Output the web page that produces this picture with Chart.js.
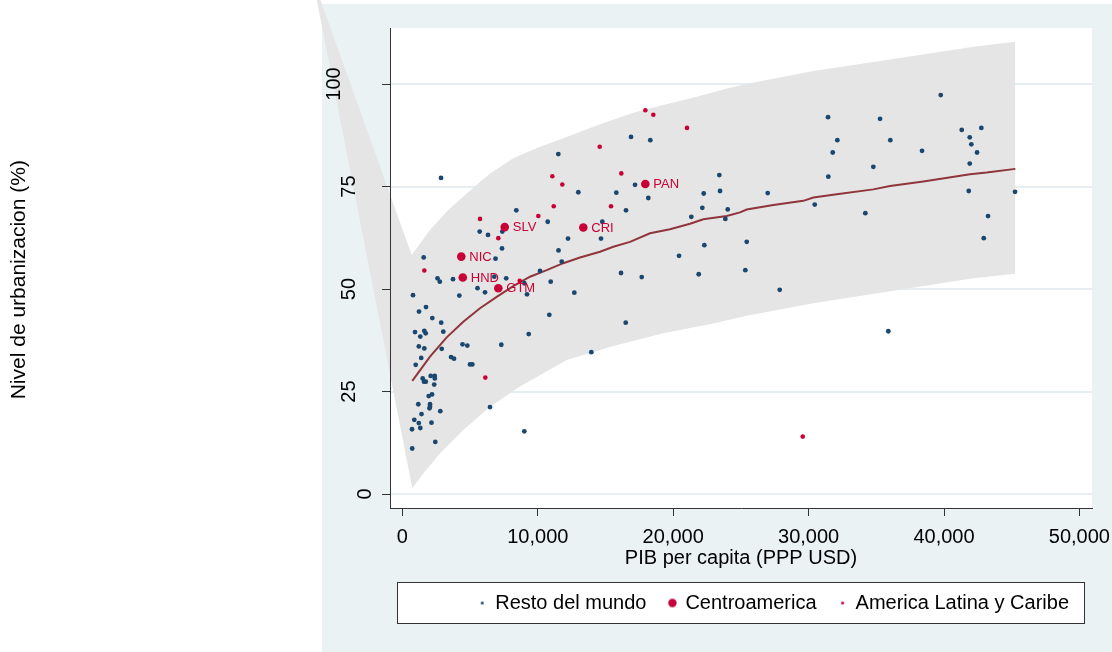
<!DOCTYPE html>
<html><head><meta charset="utf-8">
<script src="https://cdn.jsdelivr.net/npm/chart.js@4/dist/chart.umd.min.js"></script>
<style>html,body{margin:0;padding:0;background:#fff;overflow:hidden}#wrap{width:1112px;height:652px}</style>
</head><body><div id="wrap"><canvas id="c" width="1112" height="652"></canvas></div>
<script>
// ---------------- data ----------------
const seriesNames = ['Resto del mundo', 'Centroamerica', 'America Latina y Caribe'];
const fitName = 'Ajuste';
const xTitle = 'PIB per capita (PPP USD)';
const yTitle = 'Nivel de urbanizacion (%)';
const xTicks = [0, 10000, 20000, 30000, 40000, 50000];
const yTicks = [0, 25, 50, 75, 100];
const yTickLabels = ['0', '25', '50', '75', '100'];

const restoX = [2851,11515,16884,18310,12992,15799,17180,18162,8413,10732,12231,14668,14765,16515,11530,5709,6322,7379,7356,1573,6876,20430,21338,22150,22254,23406,23458,24027,23850,22298,25430,
  2592,2762,3737,7667,6788,9004,9203,5547,6101,4203,783,10163,11766,10953,12697,16146,17675,21885,25327,10850,16493,9329,7305,13952,6470,9004,4439,4793,3590,3811,4993,5163,
  1226,1743,2208,2866,3021,931,1618,1721,1322,1211,1618,2903,1389,982,1499,1595,1728,2090,2386,2393,2349,1943,2186,1174,2039,2039,2002,2799,1411,879,1211,2149,1322,709,2430,724,
  39759,31435,35276,41310,42757,41901,42019,42440,32122,36036,31782,38378,34781,31457,41901,26981,41827,45247,30453,34190,43252,42935,27867,35888];
const restoY = [77.1,82.9,87.1,86.3,73.6,73.5,75.4,72.2,69.2,66.4,62.3,62.3,66.4,69.2,59.4,64.0,63.2,64.0,59.9,57.7,57.4,58.1,67.6,69.8,73.3,77.8,73.9,69.4,67.1,60.7,61.5,
  52.6,51.8,52.4,52.6,53.0,51.4,48.7,50.2,49.2,48.4,48.5,54.4,56.7,51.8,49.1,53.9,52.9,53.6,54.6,43.7,41.8,39.0,36.4,34.6,21.2,15.3,36.5,36.2,33.4,33.0,31.6,31.6,
  44.5,45.6,42.9,41.8,39.6,39.5,39.8,39.2,38.4,36.0,35.5,35.4,33.2,31.5,28.2,27.4,27.4,28.8,28.8,28.2,26.7,23.9,24.3,21.9,21.9,21.3,20.9,20.2,19.5,18.1,17.3,17.4,16.1,15.8,12.7,11.1,
  97.3,91.9,91.5,88.8,89.3,87.0,85.3,83.3,86.3,86.3,83.3,83.7,79.8,77.4,80.6,73.4,73.9,73.7,70.6,68.5,67.8,62.4,49.8,39.7];

const caCodes = ['PAN', 'SLV', 'CRI', 'NIC', 'HND', 'GTM'];
const caX = [17940, 7556, 13361, 4350, 4461, 7083];
const caY = [75.6, 65.1, 65.0, 57.9, 52.8, 50.2];

const alcX = [17941,18532,21021,14573,11072,11810,16168,11175,15407,10038,5732,7083,1618,8664,6123,29566];
const alcY = [93.6,92.5,89.3,84.7,77.5,75.5,78.2,70.2,70.2,67.8,67.1,62.4,54.5,52.0,28.4,14.0];

const fitX = [731,2039,3272,4498,5731,6965,8191,9425,10658,11884,13118,14595,15577,16811,18288,19765,21242,22225,23953,24935,25430,27395,29611,30349,32077,34781,36014,38473,41923,43156,45269];
const fitY = [27.6,33.5,38.2,42.0,45.3,48.1,50.7,53.0,54.6,56.3,57.7,59.1,60.3,61.5,63.6,64.6,65.9,67.0,67.8,68.7,69.4,70.5,71.5,72.3,73.1,74.3,75.1,76.2,78.0,78.4,79.3];

const ciUpX = [-6650,687,2039,3272,4749,6470,8191,10163,11884,14595,17054,19270,21737,23953,25674,30349,36014,42167,45269];
const ciUpY = [126,58.3,64.4,68.9,73.3,78.2,81.9,84.7,86.8,90.2,93.0,94.9,96.9,98.9,100.2,103.2,106.0,109.1,110.3];
const ciLoX = [-6650,731,1544,2777,4498,6470,8686,12135,15577,19270,22963,25430,30349,36258,42167,45269];
const ciLoY = [126,1.4,5.0,9.9,15.6,21.3,26.2,32.7,36.1,39.2,41.6,43.5,46.5,49.6,52.6,53.7];

// ---------------- styles ----------------
const FONT = "'Liberation Sans', Arial, Helvetica, sans-serif";
const NAVY = '#1a476f', RED = '#c90036', MAROON = '#90353b', BAND = '#e5e5e5', PANEL = '#eaf2f3', GRID = '#e6eef1', AXIS = '#333333';
Chart.defaults.font.family = FONT;
Chart.defaults.color = '#000';

const pts = (xs, ys) => xs.map((x, i) => ({x, y: ys[i]}));
function dot(r, color) {
  const c = document.createElement('canvas');
  const s = Math.ceil(2 * r + 2);
  c.width = s; c.height = s;
  const g = c.getContext('2d');
  g.fillStyle = color; g.beginPath(); g.arc(s / 2, s / 2, r, 0, Math.PI * 2); g.fill();
  return c;
}
const legendDots = [dot(1.5, NAVY), dot(4.2, RED), dot(1.5, RED)];
const BAND_INDEX = 4;

const bgPlugin = {
  id: 'bg',
  beforeDraw(chart) {
    const ctx = chart.ctx, a = chart.chartArea;
    ctx.save();
    ctx.fillStyle = '#fff'; ctx.fillRect(0, 0, chart.width, chart.height);
    ctx.fillStyle = PANEL; ctx.fillRect(322, 4, chart.width - 322, chart.height - 4);
    ctx.fillStyle = '#fff'; ctx.fillRect(a.left, a.top, a.right - a.left, a.bottom - a.top);
    ctx.fillRect(397.5, 582.5, 687, 41);
    ctx.strokeStyle = AXIS; ctx.lineWidth = 1; ctx.strokeRect(397.5, 582.5, 687, 41);
    ctx.restore();
  }
};
// let the confidence band spill outside the plot region, as in the original
const unclipBand = {
  id: 'unclipBand',
  beforeDatasetsDraw(chart) {
    chart.$savedArea = chart.chartArea;
    chart.chartArea = {left: 0, top: 0, right: chart.width, bottom: chart.height, width: chart.width, height: chart.height};
  },
  afterDatasetDraw(chart, args) {
    if (args.index === BAND_INDEX && chart.$savedArea) { chart.chartArea = chart.$savedArea; chart.$savedArea = null; }
  },
  afterDatasetsDraw(chart) {
    if (chart.$savedArea) { chart.chartArea = chart.$savedArea; chart.$savedArea = null; }
  }
};
const codePlugin = {
  id: 'codes',
  afterDatasetsDraw(chart) {
    const meta = chart.getDatasetMeta(1), ctx = chart.ctx;
    ctx.save();
    ctx.font = '13px ' + FONT; ctx.fillStyle = RED; ctx.textBaseline = 'middle'; ctx.textAlign = 'left';
    meta.data.forEach((p, i) => ctx.fillText(caCodes[i], p.x + 8, p.y + 0.5));
    ctx.restore();
  }
};

new Chart(document.getElementById('c'), {
  type: 'scatter',
  data: {
    datasets: [
      {label: seriesNames[0], data: pts(restoX, restoY), backgroundColor: NAVY, pointRadius: 2.4, pointBorderWidth: 0, order: 6},
      {label: seriesNames[1], data: pts(caX, caY), backgroundColor: RED, pointRadius: 4.3, pointBorderWidth: 0, order: 4},
      {label: seriesNames[2], data: pts(alcX, alcY), backgroundColor: RED, pointRadius: 2.3, pointBorderWidth: 0, order: 5},
      {label: fitName, type: 'line', data: pts(fitX, fitY), borderColor: MAROON, borderWidth: 2, pointRadius: 0, fill: false, tension: 0, order: 8},
      {label: 'IC sup', type: 'line', data: pts(ciUpX, ciUpY), borderWidth: 0, borderColor: BAND, backgroundColor: BAND, pointRadius: 0, fill: '+1', tension: 0, clip: false, order: 10},
      {label: 'IC inf', type: 'line', data: pts(ciLoX, ciLoY), borderWidth: 0, borderColor: BAND, backgroundColor: BAND, pointRadius: 0, fill: false, tension: 0, clip: false, order: 11}
    ]
  },
  options: {
    responsive: false, animation: false, devicePixelRatio: 1,
    events: [],
    layout: {padding: {top: 28, right: 20, bottom: 29, left: 0}},
    scales: {
      x: {
        type: 'linear', position: 'bottom', min: -916, max: 50930,
        afterBuildTicks: s => { s.ticks = xTicks.map(v => ({value: v})); },
        afterFit: s => { s.height = 62; s.paddingLeft = 0; s.paddingRight = 0; },
        ticks: {font: {size: 20}, color: '#000', padding: 9, callback: v => Number(v).toLocaleString('en-US')},
        grid: {drawOnChartArea: false, drawTicks: true, tickLength: 8, tickColor: AXIS, tickWidth: 1},
        border: {display: true, color: AXIS, width: 1, z: 1},
        title: {display: true, text: xTitle, font: {size: 20, lineHeight: 1}, color: '#000', padding: {top: 0, bottom: 2}}
      },
      y: {
        type: 'linear', position: 'left', min: -3.41, max: 113.66, weight: 1,
        afterBuildTicks: s => { s.ticks = yTicks.map(v => ({value: v})); },
        afterFit: s => { s.width = 390; s.paddingTop = 0; s.paddingBottom = 0; },
        ticks: {
          z: 1,
          font: {size: 20, lineHeight: 1.55}, color: '#000', padding: 31,
          minRotation: 90, maxRotation: 90, crossAlign: 'center',
          callback: (v, i) => { const lab = yTickLabels[i]; const n = 3 - lab.length; return n > 0 ? [...Array(n).fill(''), lab] : lab; }
        },
        grid: {color: GRID, lineWidth: 2, drawTicks: true, tickLength: 8, tickColor: 'rgba(0,0,0,0)'},
        border: {display: true, color: AXIS, width: 1, z: 1},
        title: {display: true, text: yTitle + '    ', font: {size: 21, lineHeight: 1}, color: '#000', padding: {top: 8.5, bottom: 0}}
      },
      y2: {
        type: 'linear', position: 'left', min: -3.41, max: 113.66, weight: 0,
        afterBuildTicks: s => { s.ticks = yTicks.map(v => ({value: v})); },
        afterFit: s => { s.width = 0; s.paddingTop = 0; s.paddingBottom = 0; },
        ticks: {display: false},
        grid: {drawOnChartArea: false, drawTicks: true, tickLength: 8, tickColor: AXIS, tickWidth: 1, z: 1},
        border: {display: false}
      }
    },
    plugins: {
      tooltip: {enabled: false},
      title: {display: false},
      legend: {
        position: 'bottom', align: 'end',
        labels: {
          usePointStyle: true, boxWidth: 6, boxHeight: 6, padding: 23, color: '#000', font: {size: 20},
          filter: item => item.datasetIndex < 3,
          sort: (a, b) => a.datasetIndex - b.datasetIndex,
          generateLabels: chart => {
            const items = Chart.defaults.plugins.legend.labels.generateLabels(chart);
            items.forEach(it => { if (it.datasetIndex < 3) it.pointStyle = legendDots[it.datasetIndex]; });
            return items;
          }
        }
      }
    }
  },
  plugins: [bgPlugin, unclipBand, codePlugin]
});
</script>
</body></html>
